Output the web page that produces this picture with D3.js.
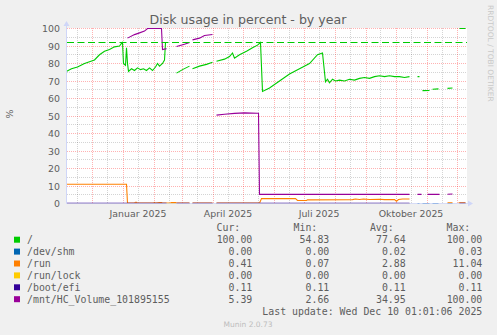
<!DOCTYPE html>
<html>
<head>
<meta charset="utf-8">
<script src="https://cdn.jsdelivr.net/npm/d3@7"></script>
<style>
  body { margin: 0; background: #f0f0f0; }
  svg { display: block; }
  text { font-family: "DejaVu Sans", sans-serif; fill: #5e5e5e; }
  .mono { font-family: "DejaVu Sans Mono", monospace; }
</style>
</head>
<body>
<svg id="chart" width="497" height="335"></svg>
<script>
// values, null = no data
var rootPts = [
  ['2024-11-06', 75.5], ['2024-11-11', 77], ['2024-11-17', 78], ['2024-11-24', 80],
  ['2024-11-29', 81], ['2024-12-04', 82], ['2024-12-09', 85], ['2024-12-14', 87],
  ['2024-12-19', 88], ['2024-12-24', 89.5], ['2024-12-29', 90], ['2024-12-31', 91.5],
  ['2025-01-01', 92], ['2025-01-02', 80], ['2025-01-04', 79], ['2025-01-05', 89],
  ['2025-01-06', 80], ['2025-01-07', 75.5], ['2025-01-10', 77], ['2025-01-13', 76],
  ['2025-01-16', 77.5], ['2025-01-19', 76.5], ['2025-01-22', 77], ['2025-01-25', 76],
  ['2025-01-28', 77.5], ['2025-01-31', 76], ['2025-02-03', 78], ['2025-02-05', 80],
  ['2025-02-07', 78.5], ['2025-02-10', 80], ['2025-02-12', 82], ['2025-02-13', 92],
  ['2025-02-14', 92], ['2025-02-15', null],
  ['2025-02-24', 74.5], ['2025-03-02', 76.5], ['2025-03-09', 78.5], ['2025-03-10', null],
  ['2025-03-12', 77], ['2025-03-19', 78.5], ['2025-03-26', 79.5], ['2025-04-01', 80.7],
  ['2025-04-02', null],
  ['2025-04-05', 81.3], ['2025-04-13', 82.5], ['2025-04-18', 84], ['2025-04-21', 86],
  ['2025-04-23', 83], ['2025-04-28', 85], ['2025-05-05', 87], ['2025-05-11', 89],
  ['2025-05-16', 90.5], ['2025-05-19', 92], ['2025-05-21', 64], ['2025-05-28', 66],
  ['2025-06-07', 70], ['2025-06-17', 74], ['2025-06-27', 77], ['2025-07-07', 80],
  ['2025-07-15', 85], ['2025-07-20', 86], ['2025-07-23', 69.5], ['2025-07-25', 71],
  ['2025-07-27', 69], ['2025-07-30', 71], ['2025-08-02', 70], ['2025-08-06', 70.5],
  ['2025-08-11', 70], ['2025-08-16', 71], ['2025-08-21', 70.5], ['2025-08-26', 71.5],
  ['2025-08-31', 72], ['2025-09-05', 71.5], ['2025-09-10', 72.5], ['2025-09-15', 73],
  ['2025-09-20', 72.5], ['2025-09-25', 73], ['2025-09-30', 72.5], ['2025-10-05', 72.5],
  ['2025-10-10', 72], ['2025-10-15', 72.5], ['2025-10-16', null],
  ['2025-10-23', 72.5], ['2025-10-25', 72.5], ['2025-10-26', null],
  ['2025-10-28', 64.5], ['2025-11-04', 64.6], ['2025-11-05', null],
  ['2025-11-07', 65.3], ['2025-11-13', 65.5], ['2025-11-14', null],
  ['2025-11-22', 65.8], ['2025-11-27', 66], ['2025-11-28', null],
  ['2025-12-04', 100], ['2025-12-10', 100]
];

var shmPts = [
  ['2024-11-06', 0], ['2025-02-14', 0], ['2025-02-15', null],
  ['2025-02-24', 0], ['2025-03-09', 0], ['2025-03-10', null],
  ['2025-03-12', 0], ['2025-04-01', 0], ['2025-04-02', null],
  ['2025-04-05', 0], ['2025-10-15', 0], ['2025-10-16', null],
  ['2025-10-23', 0], ['2025-10-25', 0], ['2025-10-26', null],
  ['2025-10-28', 0], ['2025-11-04', 0], ['2025-11-05', null],
  ['2025-11-07', 0], ['2025-11-13', 0], ['2025-11-14', null],
  ['2025-11-22', 0], ['2025-11-27', 0], ['2025-11-28', null],
  ['2025-12-04', 0], ['2025-12-10', 0]
];

var runPts = [
  ['2024-11-06', 11], ['2025-01-05', 11], ['2025-01-06', 0.3], ['2025-01-13', 0.3],
  ['2025-01-14', 0.7], ['2025-01-15', 0.7], ['2025-01-16', 0.2], ['2025-02-01', 0.2],
  ['2025-02-02', 0.6], ['2025-02-03', 0.2], ['2025-02-07', 0.6], ['2025-02-09', 0.6],
  ['2025-02-10', 0.2], ['2025-02-17', 0.2], ['2025-02-19', 0.6], ['2025-02-23', 0.6],
  ['2025-02-24', 0.2], ['2025-03-09', 0.2], ['2025-03-10', null],
  ['2025-03-12', 0.2], ['2025-04-01', 0.2], ['2025-04-02', null],
  ['2025-04-05', 0.2], ['2025-05-18', 0.2], ['2025-05-20', 2.8], ['2025-06-23', 2.8],
  ['2025-06-25', 1.8], ['2025-07-04', 1.7], ['2025-07-05', 2.1], ['2025-08-19', 2.2],
  ['2025-08-22', 2.6], ['2025-08-26', 2.3], ['2025-08-30', 2.6], ['2025-09-05', 2.3],
  ['2025-09-15', 2.4], ['2025-09-20', 2.2], ['2025-09-30', 2.3], ['2025-10-02', 1.3],
  ['2025-10-04', 2.3], ['2025-10-08', 2.6], ['2025-10-15', 2.6], ['2025-10-16', null],
  ['2025-11-22', 0.4], ['2025-11-27', 0.4], ['2025-11-28', null],
  ['2025-12-03', 0.4], ['2025-12-10', 0.41]
];

var lockPts = [
  ['2024-11-06', 0], ['2025-02-23', 0], ['2025-03-09', 0], ['2025-03-10', null],
  ['2025-03-12', 0], ['2025-04-01', 0], ['2025-04-02', null],
  ['2025-04-05', 0], ['2025-10-15', 0], ['2025-10-16', null],
  ['2025-12-04', 0], ['2025-12-10', 0]
];

var efiPts = [
  ['2024-11-06', 0.11], ['2025-02-14', 0.11], ['2025-02-15', null],
  ['2025-02-24', 0.11], ['2025-03-09', 0.11], ['2025-03-10', null],
  ['2025-03-12', 0.11], ['2025-04-01', 0.11], ['2025-04-02', null],
  ['2025-04-05', 0.11], ['2025-10-15', 0.11], ['2025-10-16', null],
  ['2025-12-04', 0.11], ['2025-12-10', 0.11]
];

var mntPts = [
  ['2025-01-06', 94.5], ['2025-01-13', 96.5], ['2025-01-18', 97.5], ['2025-01-23', 98.5],
  ['2025-01-26', 100], ['2025-02-09', 100], ['2025-02-10', 88], ['2025-02-14', 88.5],
  ['2025-02-15', null],
  ['2025-02-24', 89.7], ['2025-03-04', 91], ['2025-03-09', 92], ['2025-03-10', null],
  ['2025-03-12', 93.5], ['2025-03-19', 94.5], ['2025-03-24', 96], ['2025-04-01', 96.6],
  ['2025-04-02', null],
  ['2025-04-05', 50.5], ['2025-04-13', 51], ['2025-04-23', 51.5], ['2025-05-03', 51.8],
  ['2025-05-16', 51.6], ['2025-05-17', 51.6], ['2025-05-18', 5.2], ['2025-10-15', 5.2],
  ['2025-10-16', null],
  ['2025-10-23', 5.2], ['2025-10-27', 5.2], ['2025-10-28', null],
  ['2025-11-02', 5.2], ['2025-11-14', 5.2], ['2025-11-15', null],
  ['2025-11-22', 5.3], ['2025-11-27', 5.4]
];

var warningLevel = 92;

var legendNames = ['/', '/dev/shm', '/run', '/run/lock', '/boot/efi', '/mnt/HC_Volume_101895155'];
var curVals = ['100.00', '0.00', '0.41', '0.00', '0.11', '5.39'];
var minVals = ['54.83', '0.00', '0.07', '0.00', '0.11', '2.66'];
var avgVals = ['77.64', '0.02', '2.88', '0.00', '0.11', '34.95'];
var maxVals = ['100.00', '0.03', '11.04', '0.00', '0.11', '100.00'];
var statHeaders = ['Cur:', 'Min:', 'Avg:', 'Max:'];

var yTicks = [0, 10, 20, 30, 40, 50, 60, 70, 80, 90, 100];
var xLabelMonths = ['2025-01-01', '2025-04-01', '2025-07-01', '2025-10-01'];
var xLabels = ['Januar 2025', 'April 2025', 'Juli 2025', 'Oktober 2025'];

var colors = ['#00cc00', '#0066b3', '#ff8000', '#ffcc00', '#330099', '#990099'];

var parse = d3.timeParse('%Y-%m-%d');
function toPoints(arr) {
  return arr.map(function(p) { return {date: parse(p[0]), value: p[1]}; });
}
var allSeries = [rootPts, shmPts, runPts, lockPts, efiPts, mntPts].map(toPoints);

var svg = d3.select('#chart');
var plotLeft = 67, plotRight = 467, plotTop = 28, plotBottom = 203;

// 400 px = 400 days, ending at the last update
var x = d3.scaleTime()
  .domain([new Date(2024, 10, 6, 12), new Date(2025, 11, 11, 12)])
  .range([plotLeft, plotRight]);
// half pixel offset so that a value of 0 sits on the axis pixel row
var y = d3.scaleLinear().domain([0, 100]).range([plotBottom + 0.5, plotTop + 0.5]);

function py(v) { return Math.floor(y(v)) + 0.5; }
function px(d) { return Math.round(x(d)) + 0.5; }

// canvas
svg.append('rect')
  .attr('x', plotLeft).attr('y', plotTop)
  .attr('width', plotRight - plotLeft).attr('height', plotBottom - plotTop)
  .attr('fill', '#fff');

var grid = svg.append('g');

// minor grid: every 5 %, mid-month
var minorY = d3.range(5, 100, 10);
var months = d3.timeMonth.range(d3.timeMonth.floor(x.domain()[0]), x.domain()[1]);
var minorX = months.map(function(m) { return d3.timeDay.offset(m, 15); })
  .filter(function(d) { return d > x.domain()[0] && d < x.domain()[1]; });
var majorX = months.filter(function(d) { return d > x.domain()[0]; });
var minorColor = 'rgba(0,0,0,0.17)';
var majorColor = 'rgba(255,0,0,0.3)';

grid.selectAll('.minor-h').data(minorY).enter().append('line')
  .attr('x1', plotLeft).attr('x2', plotRight)
  .attr('y1', py).attr('y2', py)
  .attr('stroke', minorColor)
  .attr('stroke-dasharray', '1,1');

grid.selectAll('.minor-v').data(minorX).enter().append('line')
  .attr('x1', px).attr('x2', px)
  .attr('y1', plotTop).attr('y2', plotBottom)
  .attr('stroke', minorColor)
  .attr('stroke-dasharray', '1,1');

// major grid: every 10 %, month start
grid.selectAll('.major-h').data(yTicks.slice(1)).enter().append('line')
  .attr('x1', plotLeft).attr('x2', plotRight)
  .attr('y1', py).attr('y2', py)
  .attr('stroke', majorColor)
  .attr('stroke-dasharray', '1,1');

grid.selectAll('.major-v').data(majorX).enter().append('line')
  .attr('x1', px).attr('x2', px)
  .attr('y1', plotTop).attr('y2', plotBottom)
  .attr('stroke', majorColor)
  .attr('stroke-dasharray', '1,1');

// data
svg.append('clipPath').attr('id', 'clip')
  .append('rect').attr('x', plotLeft).attr('y', plotTop - 3)
  .attr('width', plotRight - plotLeft).attr('height', plotBottom - plotTop + 4);

var line = d3.line()
  .defined(function(d) { return d.value !== null; })
  .x(function(d) { return x(d.date); })
  .y(function(d) { return y(d.value); });

svg.append('g').attr('clip-path', 'url(#clip)')
  .selectAll('path').data(allSeries).enter().append('path')
  .attr('d', line)
  .attr('fill', 'none')
  .attr('stroke', function(d, i) { return colors[i]; })
  .attr('stroke-width', 1.1);

// warning line for /
svg.append('line')
  .attr('x1', plotLeft).attr('x2', plotRight)
  .attr('y1', py(warningLevel)).attr('y2', py(warningLevel))
  .attr('stroke', colors[0])
  .attr('stroke-dasharray', '7,3.5');

// axes with arrows
var axisColor = '#cfd6f8';
svg.append('line').attr('x1', plotLeft - 0.5).attr('x2', plotRight + 2)
  .attr('y1', plotBottom + 0.5).attr('y2', plotBottom + 0.5)
  .attr('stroke', axisColor).attr('stroke-opacity', 0.75);
svg.append('line').attr('x1', plotLeft - 0.5).attr('x2', plotLeft - 0.5)
  .attr('y1', plotBottom + 0.5).attr('y2', plotTop - 4).attr('stroke', axisColor);
svg.append('path')
  .attr('d', 'M' + (plotLeft - 3.5) + ',' + (plotTop - 2) + 'L' + (plotLeft + 2.5) + ',' + (plotTop - 2) +
    'L' + (plotLeft - 0.5) + ',' + (plotTop - 7) + 'Z')
  .attr('fill', axisColor);
svg.append('path')
  .attr('d', 'M' + (plotRight + 1) + ',' + (plotBottom - 2.5) + 'L' + (plotRight + 1) + ',' + (plotBottom + 3.5) +
    'L' + (plotRight + 6) + ',' + (plotBottom + 0.5) + 'Z')
  .attr('fill', axisColor);

// tick labels
var yAxis = svg.append('g')
  .attr('transform', 'translate(' + plotLeft + ',0)')
  .call(d3.axisLeft(y).tickValues(yTicks).tickSize(0).tickPadding(7));
var xAxis = svg.append('g')
  .attr('transform', 'translate(0,' + plotBottom + ')')
  .call(d3.axisBottom(x)
    .tickValues(xLabelMonths.map(function(m) { return d3.timeDay.offset(parse(m), 15); }))
    .tickFormat(function(d, i) { return xLabels[i]; })
    .tickSize(0).tickPadding(7));
[yAxis, xAxis].forEach(function(a) {
  a.select('.domain').remove();
  a.selectAll('text')
    .attr('fill', null)
    .style('font-family', '"DejaVu Sans", sans-serif')
    .style('font-size', '9.4px');
});

// titles
svg.append('text')
  .attr('x', 248).attr('y', 24)
  .attr('text-anchor', 'middle')
  .style('font-size', '12.6px')
  .text('Disk usage in percent - by year');

svg.append('text')
  .attr('transform', 'translate(13,114) rotate(-90)')
  .attr('text-anchor', 'middle')
  .style('font-size', '9.4px')
  .text('%');

svg.append('text')
  .attr('transform', 'translate(488,5) rotate(90)')
  .style('font-size', '7.5px')
  .style('fill', '#c8c8c8')
  .text('RRDTOOL / TOBI OETIKER');

// legend
var valueEnds = [252.3, 329.3, 405.7, 482.3];
var legend = svg.append('g').style('font-size', '9.9px');

legend.selectAll('.hdr').data(statHeaders).enter().append('text')
  .attr('class', 'mono')
  .attr('x', function(d, i) { return valueEnds[i] - 12; })
  .attr('y', 231.3)
  .attr('text-anchor', 'end')
  .text(function(d) { return d; });

var rows = legend.selectAll('.row').data(legendNames).enter().append('g')
  .attr('transform', function(d, i) { return 'translate(0,' + (243.2 + i * 11.9) + ')'; });

rows.append('rect')
  .attr('x', 14).attr('y', -6.5).attr('width', 6).attr('height', 6)
  .attr('fill', function(d, i) { return colors[i]; });

rows.append('text').attr('class', 'mono')
  .attr('x', 27)
  .text(function(d) { return d; });

[curVals, minVals, avgVals, maxVals].forEach(function(vals, c) {
  rows.append('text').attr('class', 'mono')
    .attr('x', valueEnds[c])
    .attr('text-anchor', 'end')
    .text(function(d, i) { return vals[i]; });
});

legend.append('text').attr('class', 'mono')
  .attr('x', valueEnds[3]).attr('y', 243.2 + 6 * 11.9)
  .attr('text-anchor', 'end')
  .text('Last update: Wed Dec 10 01:01:06 2025');

svg.append('text')
  .attr('x', 248).attr('y', 326.5)
  .attr('text-anchor', 'middle')
  .style('font-size', '7.5px')
  .style('fill', '#bdbdbd')
  .text('Munin 2.0.73');
</script>
</body>
</html>
